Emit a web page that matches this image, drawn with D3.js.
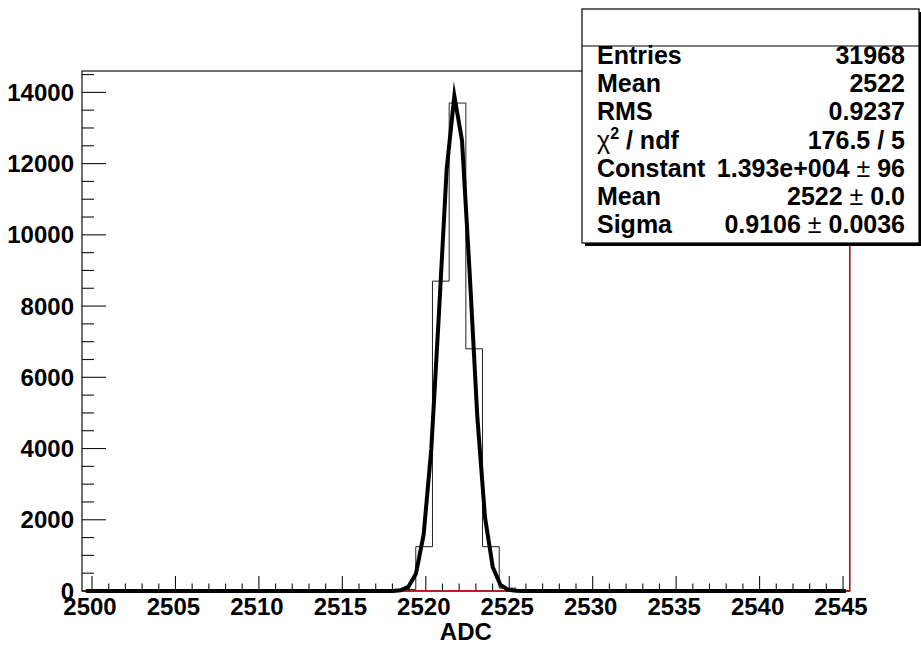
<!DOCTYPE html>
<html>
<head>
<meta charset="utf-8">
<script src="https://cdn.jsdelivr.net/npm/d3@7"></script>
<style>
  html, body { margin: 0; padding: 0; background: #fff; }
  svg { display: block; }
  text { font-family: "Liberation Sans", Arial, Helvetica, sans-serif; font-weight: bold; fill: #000; }
</style>
</head>
<body>
<svg id="chart" width="921" height="647"></svg>
<script>
// ADC histogram: 46 bins of width 1, starting at 2499.4
const binStart = 2499.4;
const binWidth = 1;
const binCounts = [
  0, 0, 0, 0, 0, 0, 0, 0, 0, 0,
  0, 0, 0, 0, 0, 0, 0, 0, 0, 40,
  1245, 8700, 13700, 6800, 1245, 80, 0, 0, 0, 0,
  0, 0, 0, 0, 0, 0, 0, 0, 0, 0,
  0, 0, 0, 0, 0, 0
];

// Gaussian fit parameters
const fitConstant = 13930;
const fitConstantErr = 96;
const fitMean = 2521.77;
const fitMeanErr = 0.0;
const fitSigma = 0.9106;
const fitSigmaErr = 0.0036;
const fitChi2 = 176.5;
const fitNdf = 5;
const fitNpx = 100;

// Histogram statistics
const statEntries = 31968;
const statMean = 2522;
const statRms = 0.9237;

// Axis ticks
const xTickValues = [2500, 2505, 2510, 2515, 2520, 2525, 2530, 2535, 2540, 2545];
const yTickValues = [0, 2000, 4000, 6000, 8000, 10000, 12000, 14000];
const xTitle = "ADC";

const xDomain = [binStart, binStart + binWidth * binCounts.length];
const yDomain = [0, 14600];

const frame = { left: 82, right: 849.7, top: 71, bottom: 591 };

const svg = d3.select("#chart");
svg.append("rect").attr("width", 921).attr("height", 647).attr("fill", "#fff");

const x = d3.scaleLinear().domain(xDomain).range([frame.left, frame.right]);
const y = d3.scaleLinear().domain(yDomain).range([frame.bottom, frame.top]);

// frame
svg.append("rect")
  .attr("x", frame.left).attr("y", frame.top)
  .attr("width", frame.right - frame.left).attr("height", frame.bottom - frame.top)
  .attr("fill", "none").attr("stroke", "#111").attr("stroke-width", 1.2);

// histogram outline (step line)
const bins = binCounts.map((c, i) => ({ lo: binStart + i * binWidth, hi: binStart + (i + 1) * binWidth, c }));
let hp = d3.path();
hp.moveTo(x(bins[0].lo), y(0));
bins.forEach(b => { hp.lineTo(x(b.lo), y(b.c)); hp.lineTo(x(b.hi), y(b.c)); });
hp.lineTo(x(bins[bins.length - 1].hi), y(0));
svg.append("path").attr("d", hp.toString())
  .attr("fill", "none").attr("stroke", "#222").attr("stroke-width", 1);

// red (empty) reference outline along the baseline and right edge
const rp = d3.path();
rp.moveTo(x(xDomain[0]), y(0));
rp.lineTo(x(xDomain[1]), y(0));
rp.lineTo(x(xDomain[1]), y(yDomain[1]));
svg.append("path").attr("d", rp.toString())
  .attr("fill", "none").attr("stroke", "#e00000").attr("stroke-width", 1.3);

// fitted gaussian, evaluated at fitNpx sample points across the axis range
const dx = (xDomain[1] - xDomain[0]) / fitNpx;
const gauss = v => fitConstant * Math.exp(-0.5 * Math.pow((v - fitMean) / fitSigma, 2));
const fitPts = d3.range(fitNpx).map(i => {
  const v = xDomain[0] + (i + 0.5) * dx;
  return [v, gauss(v)];
});
svg.append("path")
  .attr("d", d3.line().x(d => x(d[0])).y(d => y(d[1]))(fitPts))
  .attr("fill", "none").attr("stroke", "#000").attr("stroke-width", 4)
  .attr("stroke-linejoin", "miter").attr("stroke-miterlimit", 10);

// x axis ticks (pointing up into the frame)
const gx = svg.append("g");
d3.range(2500, 2546, 1).forEach(v => {
  const major = v % 5 === 0;
  gx.append("line")
    .attr("x1", x(v)).attr("x2", x(v))
    .attr("y1", frame.bottom).attr("y2", frame.bottom - (major ? 15 : 7.5))
    .attr("stroke", "#111").attr("stroke-width", 1.1);
});
gx.selectAll("text.xt").data(xTickValues).join("text")
  .attr("class", "xt")
  .attr("x", d => x(d) - 2).attr("y", 615)
  .attr("text-anchor", "middle").attr("font-size", 24)
  .text(d => d);
svg.append("text")
  .attr("x", (frame.left + frame.right) / 2).attr("y", 640)
  .attr("text-anchor", "middle").attr("font-size", 24)
  .text(xTitle);

// y axis ticks (pointing right into the frame)
const gy = svg.append("g");
d3.range(0, 14501, 500).forEach(v => {
  const major = v % 2000 === 0;
  gy.append("line")
    .attr("x1", frame.left).attr("x2", frame.left + (major ? 24 : 12))
    .attr("y1", y(v)).attr("y2", y(v))
    .attr("stroke", "#111").attr("stroke-width", 1.1);
});
gy.selectAll("text.yt").data(yTickValues).join("text")
  .attr("class", "yt")
  .attr("x", 74).attr("y", d => y(d) + 8.5)
  .attr("text-anchor", "end").attr("font-size", 24)
  .text(d => d);

// statistics box
const box = { x: 582, y: 9, w: 337, h: 234, sep: 37 };
svg.append("rect").attr("x", box.x + 3).attr("y", box.y + 3)
  .attr("width", box.w).attr("height", box.h).attr("fill", "#000");
svg.append("rect").attr("x", box.x).attr("y", box.y)
  .attr("width", box.w).attr("height", box.h)
  .attr("fill", "#fff").attr("stroke", "#000").attr("stroke-width", 1.2);
svg.append("line").attr("x1", box.x).attr("x2", box.x + box.w)
  .attr("y1", box.y + box.sep).attr("y2", box.y + box.sep)
  .attr("stroke", "#000").attr("stroke-width", 1.2);

const g4 = d3.format(".4r");
const rootExp = v => {
  const [m, e] = d3.format(".3e")(v).split("e");
  const sign = e[0] === "-" ? "-" : "+";
  return m + "e" + sign + String(Math.abs(+e)).padStart(3, "0");
};
const statLabels = ["Entries", "Mean", "RMS", "chi2", "Constant", "Mean", "Sigma"];
const statValues = [
  [String(statEntries)],
  [String(statMean)],
  [d3.format(".4f")(statRms)],
  [fitChi2.toFixed(1) + " / " + fitNdf],
  [rootExp(fitConstant), String(fitConstantErr)],
  [g4(fitMean), fitMeanErr.toFixed(1)],
  [d3.format(".4f")(fitSigma), d3.format(".4f")(fitSigmaErr)]
];
const rowY0 = 64, rowStep = 28.2;
statLabels.forEach((lab, i) => {
  const t = svg.append("text").attr("x", 597).attr("y", rowY0 + i * rowStep).attr("font-size", 25);
  if (lab === "chi2") {
    t.append("tspan").attr("font-weight", "normal").text("\u03c7");
    t.append("tspan").attr("font-size", 16).attr("dy", -10).text("2");
    t.append("tspan").attr("dy", 10).text(" / ndf");
  } else {
    t.text(lab);
  }
  const v = svg.append("text").attr("x", 905).attr("y", rowY0 + i * rowStep)
    .attr("text-anchor", "end").attr("font-size", 25);
  const vals = statValues[i];
  v.append("tspan").text(vals[0]);
  if (vals.length > 1) {
    v.append("tspan").attr("font-weight", "normal").text(" \u00b1 ");
    v.append("tspan").text(vals[1]);
  }
});
</script>
</body>
</html>
